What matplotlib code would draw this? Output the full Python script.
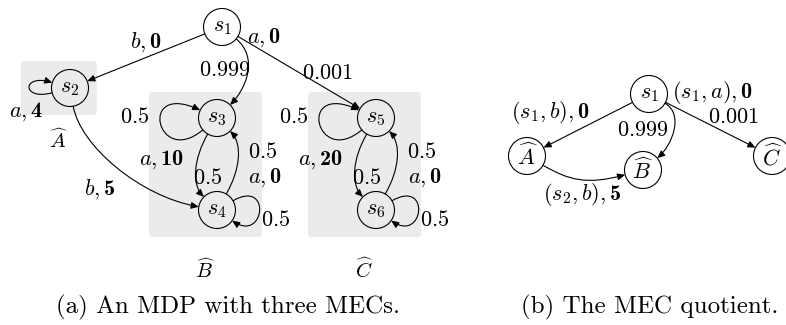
import numpy as np
import matplotlib.pyplot as plt
from matplotlib.patches import Circle, FancyArrowPatch, FancyBboxPatch
from matplotlib.path import Path

plt.rcParams['mathtext.fontset'] = 'custom'
plt.rcParams['mathtext.rm'] = 'cmr10'
plt.rcParams['mathtext.it'] = 'cmmi10'
plt.rcParams['mathtext.bf'] = 'cmb10'
plt.rcParams['mathtext.fallback'] = 'cm'
plt.rcParams['font.family'] = 'cmr10'
plt.rcParams['axes.formatter.use_mathtext'] = True

# ---- diagram content ----
# panel (a): states of the MDP
mdp_states = ['s1', 's2', 's3', 's4', 's5', 's6']
mdp_state_labels = [r'$s_1$', r'$s_2$', r'$s_3$', r'$s_4$', r'$s_5$', r'$s_6$']
# MECs and the states they hold
mec_names = [r'$\widehat{A}$', r'$\widehat{B}$', r'$\widehat{C}$']
mec_members = [['s2'], ['s3', 's4'], ['s5', 's6']]
# transitions: (source, target)
mdp_edges = [('s1', 's2'), ('s1', 's3'), ('s1', 's5'), ('s2', 's2'), ('s2', 's4'),
             ('s3', 's3'), ('s3', 's4'), ('s4', 's3'), ('s4', 's4'),
             ('s5', 's5'), ('s5', 's6'), ('s6', 's5'), ('s6', 's6')]
mdp_edge_texts = [r'$b,\mathbf{0}$', r'$a,\mathbf{0}$', r'$0.999$', r'$0.001$', r'$a,\mathbf{4}$',
                  r'$b,\mathbf{5}$',
                  r'$0.5$', r'$a,\mathbf{10}$', r'$0.5$', r'$0.5$', r'$a,\mathbf{0}$', r'$0.5$',
                  r'$0.5$', r'$a,\mathbf{20}$', r'$0.5$', r'$0.5$', r'$a,\mathbf{0}$', r'$0.5$']

# panel (b): the MEC quotient
quot_states = ['q1', 'A', 'B', 'C']
quot_state_labels = [r'$s_1$', r'$\widehat{A}$', r'$\widehat{B}$', r'$\widehat{C}$']
quot_edges = [('q1', 'A'), ('q1', 'B'), ('q1', 'C'), ('A', 'B')]
quot_edge_texts = [r'$(s_1,b),\mathbf{0}$', r'$(s_1,a),\mathbf{0}$', r'$0.999$', r'$0.001$',
                   r'$(s_2,b),\mathbf{5}$']

captions = ['(a) An MDP with three MECs.', '(b) The MEC quotient.']

# ---- layout (pixel positions, y downwards) ----
pos = {'s1': (222, 27), 's2': (70, 88), 's3': (217, 118), 's4': (217, 210),
       's5': (376, 118), 's6': (376, 210),
       'q1': (649, 94), 'A': (527, 156), 'B': (643, 170), 'C': (772, 156)}
R = 18.5
# edge shapes: None = straight, else (out angle, in angle, out length, in length)
mdp_shapes = [None, (-40, 45, 30, 22), None, (195, 163, 32, 32), (-80, 170, 40, 60),
              (220, 155, 60, 70), (240, 135, 28, 18), (60, -45, 28, 18), (30, -35, 45, 40),
              (220, 155, 60, 70), (240, 135, 28, 18), (60, -45, 28, 18), (30, -35, 45, 40)]
quot_shapes = [None, (-30, 40, 22, 20), None, (-30, 195, 30, 40)]
mdp_text_pos = [(146, 42), (264, 38), (225, 70), (327, 73), (26, 112), (100, 189),
                (135, 117), (162, 160), (208, 178), (263, 152), (265, 178), (276, 220),
                (294, 117), (321, 160), (367, 178), (422, 152), (425, 178), (435, 220)]
quot_text_pos = [(550, 113), (712, 93), (643, 130), (733, 117), (582, 195)]
mec_label_pos = [(59, 140), (205, 270), (364, 270)]
mec_boxes = [(21, 61, 76, 54), (149, 92, 113, 145), (308, 92, 113, 145)]
caption_pos = [(228, 307), (650, 307)]

fig = plt.figure(figsize=(7.86, 3.25), dpi=100)
ax = fig.add_axes([0, 0, 1, 1])
ax.set_xlim(0, 786)
ax.set_ylim(325, 0)
ax.axis('off')


def u(deg):
    t = np.radians(deg)
    return np.array([np.cos(t), -np.sin(t)])


def arrow(verts, codes):
    ax.add_patch(FancyArrowPatch(path=Path(verts, codes),
                                 arrowstyle='-|>,head_length=0.45,head_width=0.2',
                                 mutation_scale=10, lw=0.8, color='black',
                                 shrinkA=0, shrinkB=0, zorder=3))


def draw_edge(a, b, shape):
    pa, pb = np.array(pos[a], float), np.array(pos[b], float)
    if shape is None:
        d = (pb - pa) / np.linalg.norm(pb - pa)
        arrow([pa + R * d, pb - R * d], [Path.MOVETO, Path.LINETO])
    else:
        o, i, l1, l2 = shape
        p0 = pa + R * u(o)
        p3 = pb + R * u(i)
        arrow([p0, p0 + l1 * u(o), p3 + l2 * u(i), p3],
              [Path.MOVETO, Path.CURVE4, Path.CURVE4, Path.CURVE4])


for (x, y, w, h) in mec_boxes:
    ax.add_patch(FancyBboxPatch((x + 4, y + 4), w - 8, h - 8,
                                boxstyle='round,pad=4', fc='#ebebeb', ec='none', zorder=0))
for name, (x, y) in zip(mec_names, mec_label_pos):
    ax.text(x, y, name, fontsize=15, ha='center', va='center')

for n, lab in list(zip(mdp_states, mdp_state_labels)) + list(zip(quot_states, quot_state_labels)):
    ax.add_patch(Circle(pos[n], R, fc='none', ec='black', lw=0.8, zorder=2))
    ax.text(pos[n][0], pos[n][1], lab, fontsize=16, ha='center', va='center')

for (a, b), sh in zip(mdp_edges + quot_edges, mdp_shapes + quot_shapes):
    draw_edge(a, b, sh)

for t, (x, y) in zip(mdp_edge_texts + quot_edge_texts, mdp_text_pos + quot_text_pos):
    ax.text(x, y, t, fontsize=16, ha='center', va='center')

for t, (x, y) in zip(captions, caption_pos):
    ax.text(x, y, t, fontsize=18, ha='center', va='center')

fig.savefig('out.png', dpi=100)
